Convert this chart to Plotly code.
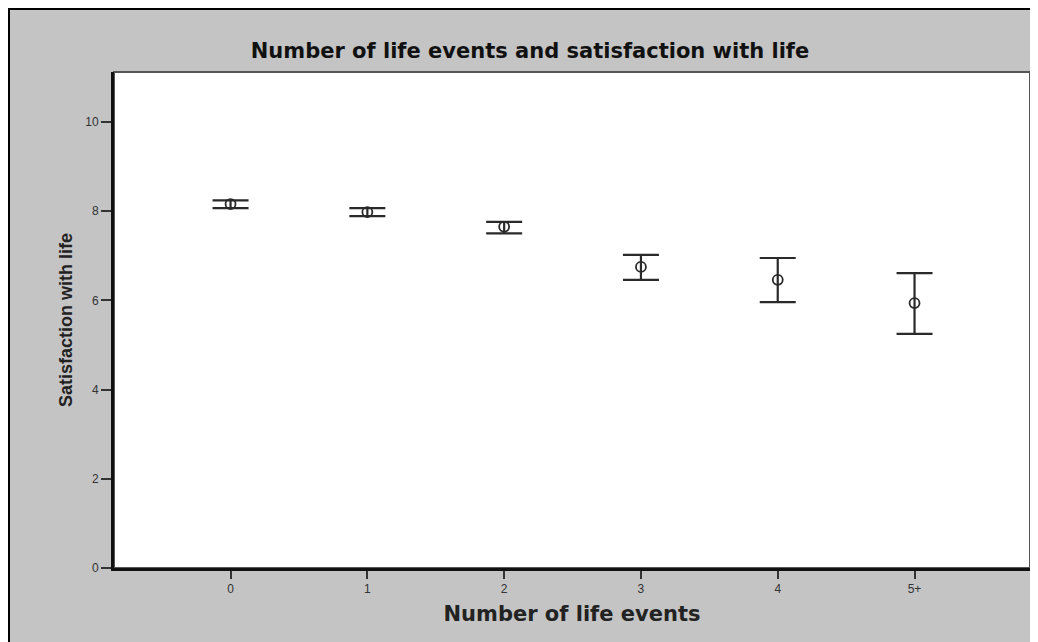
import plotly.graph_objects as go

categories = ["0", "1", "2", "3", "4", "5+"]
means = [8.16, 7.98, 7.65, 6.75, 6.46, 5.94]
upper = [8.24, 8.07, 7.76, 7.02, 6.95, 6.61]
lower = [8.07, 7.89, 7.50, 6.46, 5.96, 5.25]
y_ticks = [0, 2, 4, 6, 8, 10]

# the page places the figure 8px from the top-left corner
OFF = 8
W, H = 1038, 642
L, R, T, B = 114 - OFF, 1030 - OFF, 72 - OFF, 568 - OFF


def px_x(p):
    return (p - L) / (R - L)


def px_y(p):
    return (B - p) / (B - T)


fig = go.Figure()
fig.add_trace(go.Scatter(
    x=categories, y=means, mode="markers",
    marker=dict(symbol="circle-open", size=10, color="#2a2a2a", line=dict(width=1.8, color="#2a2a2a")),
    error_y=dict(type="data", symmetric=False,
                 array=[u - m for u, m in zip(upper, means)],
                 arrayminus=[m - l for m, l in zip(means, lower)],
                 width=18, thickness=2.2, color="#2a2a2a"),
    showlegend=False, hoverinfo="skip",
))

shapes = [
    # black frame around the grey page
    dict(type="rect", xref="paper", yref="paper", layer="below",
         x0=px_x(0.5), x1=px_x(W + 20), y0=px_y(H + 20), y1=px_y(0.5),
         fillcolor="#c4c4c4", line=dict(color="#000000", width=3)),
    # white plot area with thin frame
    dict(type="rect", xref="paper", yref="paper", layer="below",
         x0=0, x1=1, y0=0, y1=1,
         fillcolor="#ffffff", line=dict(color="#555555", width=2)),
]

fig.update_layout(
    width=W, height=H,
    margin=dict(l=L, r=W - R, t=T, b=H - B, pad=0),
    paper_bgcolor="#c4c4c4",
    plot_bgcolor="rgba(0,0,0,0)",
    shapes=shapes,
    title=dict(text="Number of life events and satisfaction with life",
               x=(530 - OFF) / W, xref="container", xanchor="center",
               y=1 - (51 - OFF) / H, yref="container", yanchor="middle",
               font=dict(family="DejaVu Sans", size=21, color="#111111", weight="bold")),
    xaxis=dict(
        type="category", range=[-0.852, 5.844],
        showline=True, linecolor="#111111", linewidth=3,
        ticks="outside", ticklen=8, tickwidth=1.5, tickcolor="#333333",
        tickfont=dict(family="Liberation Sans", size=12, color="#333333"),
        showgrid=False, zeroline=False,
        title=dict(text="Number of life events", standoff=11,
                   font=dict(family="DejaVu Sans", size=21, color="#222222", weight="bold")),
    ),
    yaxis=dict(
        range=[0, 11.12], tickvals=y_ticks,
        showline=True, linecolor="#111111", linewidth=3,
        ticks="outside", ticklen=10, tickwidth=1.5, tickcolor="#333333",
        tickfont=dict(family="Liberation Sans", size=12, color="#333333"),
        showgrid=False, zeroline=False,
        title=dict(text="Satisfaction with life", standoff=8,
                   font=dict(family="Liberation Sans", size=18, color="#222222", weight="bold")),
    ),
)

fig.write_html("out.html")
